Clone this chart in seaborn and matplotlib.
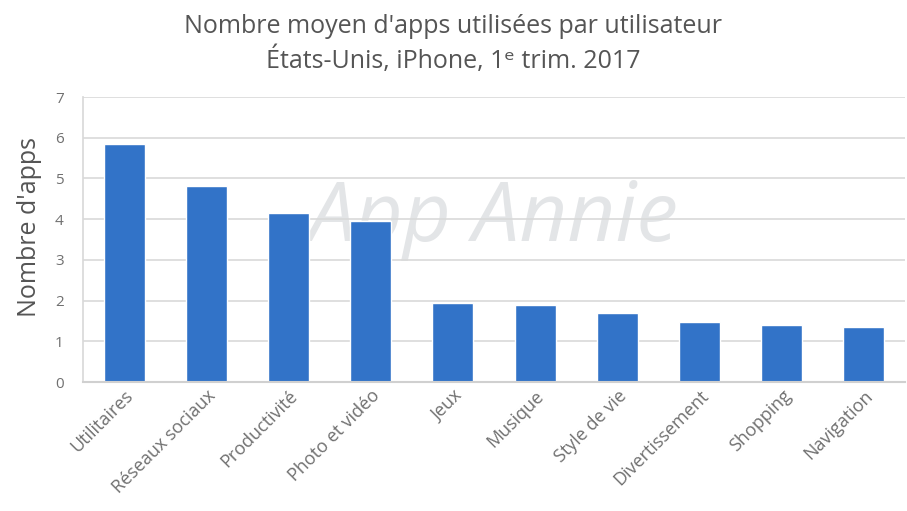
import matplotlib
matplotlib.use("Agg")
import matplotlib.pyplot as plt
import seaborn as sns
import pandas as pd

categories = ["Utilitaires", "Réseaux sociaux", "Productivité", "Photo et vidéo", "Jeux",
              "Musique", "Style de vie", "Divertissement", "Shopping", "Navigation"]
values = [5.84, 4.82, 4.16, 3.96, 1.95, 1.89, 1.70, 1.47, 1.40, 1.36]
yticks = [0, 1, 2, 3, 4, 5, 6, 7]
title = "Nombre moyen d'apps utilisées par utilisateur\nÉtats-Unis, iPhone, 1ᵉ trim. 2017"
ylabel = "Nombre d'apps"

sns.set_theme(style="white")
plt.rcParams['font.family'] = ['Open Sans', 'DejaVu Sans']

df = pd.DataFrame({"cat": categories, "val": values})
fig = plt.figure(figsize=(9.07, 5.11), dpi=100)
ax = fig.add_axes([83/907, 1 - 382/511, 822/907, 285/511])

ax.text(0.5, 0.57, "App Annie", transform=ax.transAxes, ha="center", va="center",
        fontsize=60, style="italic", color="#e3e5e7", zorder=0.5)

sns.barplot(data=df, x="cat", y="val", color="#3273c8", width=0.5, ax=ax,
            saturation=1, zorder=2)

ax.set_ylim(0, 7)
ax.set_yticks(yticks)
ax.yaxis.grid(True, color="#d9d9d9", linewidth=1.2, zorder=0)
ax.set_axisbelow(True)
for s in ["top", "right"]:
    ax.spines[s].set_visible(False)
ax.spines["left"].set_color("#d9d9d9")
ax.spines["bottom"].set_color("#d0d0d0")
ax.spines["bottom"].set_linewidth(1.5)
ax.tick_params(axis="both", length=0, colors="#707070", labelsize=11)
ax.tick_params(axis="y", pad=14)
plt.setp(ax.get_xticklabels(), rotation=45, ha="right", rotation_mode="anchor", fontsize=13)
ax.set_xlabel("")
ax.set_ylabel(ylabel, fontsize=18, color="#555555")
ax.yaxis.set_label_coords(-0.05, 0.544)
ax.set_xlim(-0.5, 9.5)

fig.suptitle(title, y=0.972, fontsize=18, color="#555555", linespacing=1.35)

fig.savefig("out.png", dpi=100)
